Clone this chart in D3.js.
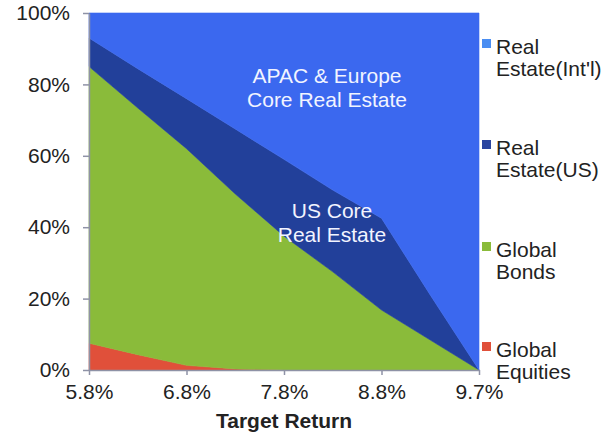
<!DOCTYPE html>
<html>
<head>
<meta charset="utf-8">
<script src="https://cdn.jsdelivr.net/npm/d3@7"></script>
<style>
  body { margin: 0; background: #fff; }
  text { font-family: "Liberation Sans", Arial, sans-serif; }
</style>
</head>
<body>
<svg id="chart" width="608" height="433"></svg>
<script>
// Target return categories (evenly spaced on the axis)
const returns = ["5.8%", "6.3%", "6.8%", "7.3%", "7.8%", "8.3%", "8.8%", "9.3%", "9.7%"];
const tickLabels = ["5.8%", "6.8%", "7.8%", "8.8%", "9.7%"];

// Allocation shares (%)
const globalEquities = [7.5, 4.3, 1.3, 0.3, 0, 0, 0, 0, 0];
const globalBonds = [77.5, 69.1, 60.7, 49, 37.5, 27.5, 16.8, 8.4, 0];
const realEstateUS = [8, 11, 14, 18.2, 21.5, 22.9, 25.7, 12.6, 0];
const realEstateIntl = [7, 15.6, 24, 32.5, 41, 49.6, 57.5, 79, 100];

const seriesKeys = ["equities", "bonds", "us", "intl"];
const seriesNames = {
    intl: ["Real", "Estate(Int'l)"],
    us: ["Real", "Estate(US)"],
    bonds: ["Global", "Bonds"],
    equities: ["Global", "Equities"]
};
const colors = { intl: "#3b68ef", us: "#22409a", bonds: "#8abb3a", equities: "#e0503a" };
const legendColors = { intl: "#4a8ef2", us: "#2a45a0", bonds: "#8abb3a", equities: "#e0503a" };

const tableData = returns.map((r, i) => ({
    ret: r,
    equities: globalEquities[i],
    bonds: globalBonds[i],
    us: realEstateUS[i],
    intl: realEstateIntl[i]
}));

const margin = { top: 13, right: 129, bottom: 63, left: 89 };
const width = 608 - margin.left - margin.right;
const height = 433 - margin.top - margin.bottom;

const svg = d3.select("#chart");
const g = svg.append("g")
    .attr("transform", "translate(" + margin.left + "," + margin.top + ")");

const x = d3.scalePoint()
    .domain(returns)
    .range([0, width]);

const y = d3.scaleLinear()
    .domain([0, 100])
    .range([height, 0]);

const stacked = d3.stack().keys(seriesKeys)(tableData);

const area = d3.area()
    .x(d => x(d.data.ret))
    .y0(d => y(d[0]))
    .y1(d => y(d[1]));

g.selectAll("path.layer")
    .data(stacked)
    .enter().append("path")
    .attr("class", "layer")
    .attr("d", area)
    .attr("fill", d => colors[d.key])
    .attr("stroke", d => colors[d.key])
    .attr("stroke-width", 0.6);

// Axes
const yAxis = g.append("g")
    .call(d3.axisLeft(y).tickValues([0, 20, 40, 60, 80, 100]).tickFormat(d => d + "%").tickSize(6).tickSizeOuter(0));
const xAxis = g.append("g")
    .attr("transform", "translate(0," + height + ")")
    .call(d3.axisBottom(x).tickValues(tickLabels).tickSize(5).tickSizeOuter(0));

[yAxis, xAxis].forEach(ax => {
    ax.select(".domain").attr("stroke", "#8e92a6").attr("stroke-width", 1.5);
    ax.selectAll(".tick line").attr("stroke", "#8e92a6").attr("stroke-width", 1.5);
    ax.selectAll(".tick text")
        .attr("fill", "#222")
        .style("font-size", "21px")
        .style("font-family", "'Liberation Sans', Arial, sans-serif");
});
yAxis.selectAll(".tick text").attr("x", -19);
xAxis.selectAll(".tick text").attr("y", 14);

// Axis title
g.append("text")
    .attr("x", x("7.8%"))
    .attr("y", height + 58)
    .attr("text-anchor", "middle")
    .attr("font-size", "21px")
    .attr("font-weight", "bold")
    .attr("fill", "#222")
    .text("Target Return");

// Area annotations
const notes = [
    { lines: ["APAC & Europe", "Core Real Estate"], cx: 327, y0: 83 },
    { lines: ["US Core", "Real Estate"], cx: 332, y0: 218 }
];
notes.forEach(n => {
    n.lines.forEach((line, i) => {
        svg.append("text")
            .attr("x", n.cx)
            .attr("y", n.y0 + i * 24)
            .attr("text-anchor", "middle")
            .attr("font-size", "21px")
            .attr("fill", "#f2f4ff")
            .text(line);
    });
});

// Legend
const legendTop = { intl: 39, us: 140, bonds: 242, equities: 342 };
["intl", "us", "bonds", "equities"].forEach(k => {
    svg.append("rect")
        .attr("x", 482)
        .attr("y", legendTop[k])
        .attr("width", 9)
        .attr("height", 9)
        .attr("fill", legendColors[k]);
    seriesNames[k].forEach((line, i) => {
        svg.append("text")
            .attr("x", 496)
            .attr("y", legendTop[k] + 15 + i * 22)
            .attr("font-size", "21px")
            .attr("fill", "#222")
            .text(line);
    });
});
</script>
</body>
</html>
